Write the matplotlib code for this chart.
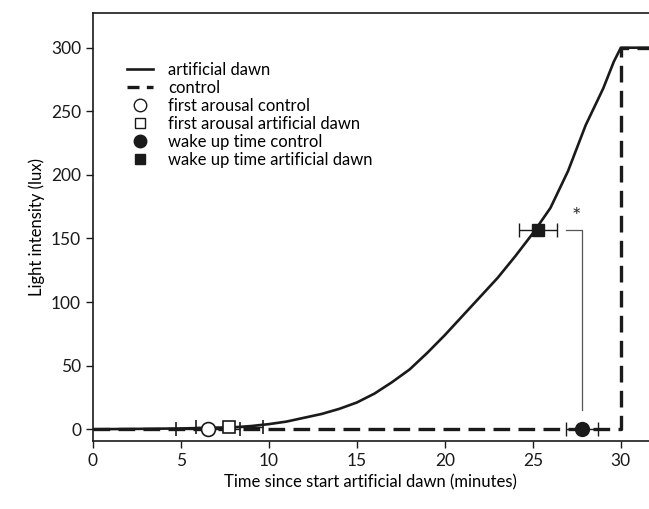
import matplotlib.pyplot as plt

plt.rcParams['font.family'] = ['Lato', 'DejaVu Sans']

# artificial dawn light curve (minutes, lux)
dawn_t = [0, 2, 5, 8, 9, 10, 11, 12, 13, 14, 15, 16, 17, 18, 19, 20, 21, 22,
          23, 24, 25, 26, 27, 28, 29, 29.6, 30, 31.6]
dawn_lux = [0, 0.2, 0.6, 1.5, 2.5, 4, 6, 9, 12, 16, 21, 28, 37, 47, 60, 74,
            89, 104, 119, 136, 154, 174, 203, 239, 268, 289, 300, 300]

# control light: dark until 30 min, then 300 lux
ctrl_t = [0, 30, 30, 31.6]
ctrl_lux = [0, 0, 300, 300]

# event times (mean, error) and the light level at that time
arousal_ctrl = (6.55, 1.8, 0)
arousal_dawn = (7.75, 1.9, 2)
wake_ctrl = (27.8, 0.9, 0)
wake_dawn = (25.3, 1.1, 157)

fig, ax = plt.subplots(figsize=(6.49, 5.09), dpi=100)
fig.subplots_adjust(left=0.143, right=1.0, top=0.975, bottom=0.133)

ax.plot(dawn_t, dawn_lux, color='#1a1a1a', lw=1.9, label='artificial dawn', zorder=3)
ax.plot(ctrl_t, ctrl_lux, color='#1a1a1a', lw=2.4, ls=(0, (5, 2.5)), zorder=2)
# legend proxy for control with shorter dashes so two dashes fit
ax.plot([], [], color='#1a1a1a', lw=2.4, ls=(0, (3.6, 2.2)), label='control')

# significance bracket
ax.plot([26.9, 27.8, 27.8], [157, 157, 15], color='#555555', lw=0.9, zorder=1)
ax.text(27.45, 167, '*', ha='center', va='center', fontsize=16, color='#333333')

ax.errorbar(arousal_ctrl[0], arousal_ctrl[2], xerr=arousal_ctrl[1], fmt='o', ms=10,
            mfc='white', mec='#1a1a1a', mew=1.2, ecolor='#1a1a1a', elinewidth=1,
            capsize=5, zorder=5)
ax.errorbar(arousal_dawn[0], arousal_dawn[2], xerr=arousal_dawn[1], fmt='s', ms=8,
            mfc='white', mec='#1a1a1a', mew=1.2, ecolor='#1a1a1a', elinewidth=1,
            capsize=5, zorder=5)
ax.errorbar(wake_ctrl[0], wake_ctrl[2], xerr=wake_ctrl[1], fmt='o', ms=10,
            mfc='#1a1a1a', mec='#1a1a1a', ecolor='#1a1a1a', elinewidth=1,
            capsize=5, zorder=5)
ax.errorbar(wake_dawn[0], wake_dawn[2], xerr=wake_dawn[1], fmt='s', ms=8,
            mfc='#1a1a1a', mec='#1a1a1a', ecolor='#1a1a1a', elinewidth=1,
            capsize=5, zorder=5)

# legend-only handles
ax.plot([], [], 'o', ms=9, mfc='white', mec='#1a1a1a', mew=1, label='first arousal control')
ax.plot([], [], 's', ms=7, mfc='white', mec='#1a1a1a', mew=1, label='first arousal artificial dawn')
ax.plot([], [], 'o', ms=9, color='#1a1a1a', label='wake up time control')
ax.plot([], [], 's', ms=7, color='#1a1a1a', label='wake up time artificial dawn')

ax.legend(loc='upper left', bbox_to_anchor=(0.061, 0.886), frameon=False, fontsize=12,
          handlelength=1.6, labelspacing=0.12, handletextpad=0.9, borderpad=0,
          borderaxespad=0)

ax.set_xlim(0, 31.6)
ax.set_ylim(-9.5, 327.5)
ax.set_xticks([0, 5, 10, 15, 20, 25, 30])
ax.set_yticks([0, 50, 100, 150, 200, 250, 300])
ax.spines['right'].set_visible(False)
for s in ['left', 'bottom', 'top']:
    ax.spines[s].set_linewidth(1.2)
    ax.spines[s].set_color('#1a1a1a')
ax.tick_params(direction='out', length=5, width=1, labelsize=12.5, colors='#1a1a1a')
ax.set_xlabel('Time since start artificial dawn (minutes)', fontsize=12)
ax.set_ylabel('Light intensity (lux)', fontsize=12)

fig.savefig('out.png', dpi=100)
